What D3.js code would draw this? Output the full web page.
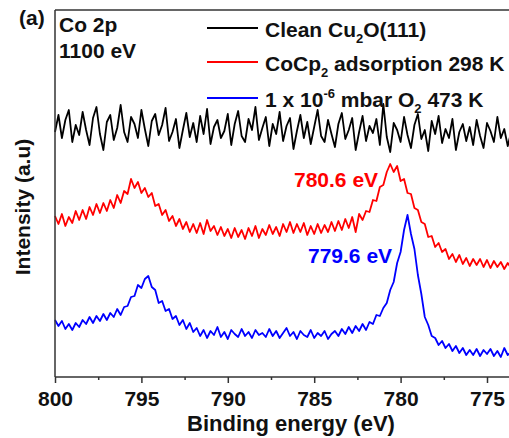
<!DOCTYPE html>
<html>
<head>
<meta charset="utf-8">
<script src="https://cdn.jsdelivr.net/npm/d3@7"></script>
<style>
  body { margin: 0; background: #fff; }
  svg { display: block; font-family: "Liberation Sans", Arial, sans-serif; font-weight: bold; }
</style>
</head>
<body>
<div class="chart"></div>
<script>
var width = 509;
var height = 438;

// binding energy grid, 800 -> 773.6 eV in 0.2 eV steps
var energy = d3.range(0, 133).map(i => +(800 - i * 0.2).toFixed(1));

// intensities (a.u.)
var cleanCu2O = [
	268, 285, 262, 280, 290, 258, 275, 265, 288, 270,
	255, 282, 293, 266, 250, 278, 285, 260, 272, 295,
	268, 258, 283, 276, 262, 290, 271, 254, 279, 286,
	265, 275, 292, 259, 268, 281, 252, 270, 287, 263,
	277, 258, 284, 266, 291, 256, 273, 280, 262, 269,
	286, 255, 276, 289, 264, 258, 281, 270, 293, 260,
	272, 283, 254, 276, 266, 288, 259, 274, 282, 251,
	269, 285, 262, 278, 256, 273, 290, 264, 258, 280,
	266, 253, 276, 287, 261, 270, 282, 250, 268, 284,
	259, 274, 267, 281, 255, 296, 263, 248, 277, 270,
	258, 283, 265, 252, 275, 286, 261, 270, 249, 279,
	266, 284, 257, 271, 262, 281, 250, 268, 276, 259,
	273, 255, 280, 264, 252, 277, 269, 258, 283, 262, 271, 254, 268
];
var cocp2Adsorption = [
	184, 176, 186, 174, 183, 177, 189, 180, 190, 181,
	193, 185, 196, 187, 197, 189, 200, 192, 205, 197,
	209, 206, 221, 212, 218, 207, 212, 203, 207, 194,
	196, 185, 190, 179, 184, 174, 181, 171, 178, 168,
	176, 167, 177, 166, 180, 169, 174, 165, 173, 164,
	171, 162, 172, 163, 170, 161, 172, 164, 174, 162,
	171, 165, 175, 166, 173, 164, 176, 168, 178, 167,
	176, 168, 177, 165, 174, 166, 176, 167, 175, 168,
	178, 169, 179, 170, 181, 172, 183, 168, 186, 180,
	189, 188, 200, 199, 213, 215, 228, 236, 228, 234,
	219, 221, 207, 206, 192, 190, 178, 176, 163, 164,
	153, 157, 148, 151, 141, 146, 138, 145, 136, 142,
	134, 141, 135, 141, 133, 140, 132, 139, 133, 138, 131, 137, 132
];
var oxygen473K = [
	80, 74, 79, 71, 76, 70, 77, 73, 80, 76,
	83, 77, 84, 79, 86, 80, 87, 83, 91, 85,
	93, 94, 103, 104, 115, 112, 121, 124, 113, 110,
	97, 99, 89, 91, 81, 84, 75, 80, 71, 77,
	68, 72, 64, 70, 62, 69, 65, 73, 63, 68,
	61, 70, 66, 63, 71, 64, 68, 62, 70, 65,
	67, 63, 71, 64, 69, 62, 67, 72, 64, 68,
	61, 69, 65, 63, 70, 62, 67, 64, 69, 61,
	66, 69, 64, 71, 66, 73, 67, 74, 69, 76,
	70, 78, 76, 85, 84, 92, 97, 110, 118, 137,
	148, 170, 185, 166, 151, 125, 106, 83, 75, 64,
	62, 55, 59, 52, 56, 49, 54, 47, 52, 45,
	50, 45, 51, 44, 50, 46, 51, 44, 49, 43, 52, 45, 48
];

var majorTicks = [800, 795, 790, 785, 780, 775];
var minorTicks = [797.5, 792.5, 787.5, 782.5, 777.5];

var seriesColors = ["#000000", "#ff0000", "#0000ff"];

var x = d3.scaleLinear().domain([800, 775]).range([55, 487]);
var y = d3.scaleLinear().domain([23, 390]).range([377, 10]);

var svg = d3.select('.chart').append('svg')
	.attr('width', width)
	.attr('height', height);

var line = d3.line()
	.defined(d => d[1] != null)
	.x(d => x(d[0]))
	.y(d => y(d[1]));

[cleanCu2O, cocp2Adsorption, oxygen473K].forEach(function(vals, k) {
	svg.append('path')
		.datum(energy.map((e, i) => [e, vals[i]]))
		.attr('d', line)
		.attr('fill', 'none')
		.attr('stroke', seriesColors[k])
		.attr('stroke-width', 1.8)
		.attr('stroke-linejoin', 'round');
});

// frame
svg.append('line').attr('x1', 55).attr('x2', width).attr('y1', 10).attr('y2', 10)
	.attr('stroke', '#333').attr('stroke-width', 1.5);
svg.append('line').attr('x1', 55).attr('x2', 55).attr('y1', 10).attr('y2', 377)
	.attr('stroke', '#333').attr('stroke-width', 1.5);
svg.append('line').attr('x1', 55).attr('x2', width).attr('y1', 377).attr('y2', 377)
	.attr('stroke', '#333').attr('stroke-width', 1.5);

// x axis
var gx = svg.append('g').attr('transform', 'translate(0,377)')
	.call(d3.axisBottom(x).tickValues(majorTicks).tickSize(6).tickPadding(8).tickFormat(d3.format('d')));
gx.select('.domain').remove();
gx.selectAll('line').attr('stroke', '#333').attr('stroke-width', 1.5);
gx.selectAll('text').attr('font-size', 21).attr('font-family', '"Liberation Sans", Arial, sans-serif')
	.attr('font-weight', 'bold').attr('fill', '#111');

var gm = svg.append('g').attr('transform', 'translate(0,377)')
	.call(d3.axisBottom(x).tickValues(minorTicks).tickSize(3).tickFormat(''));
gm.select('.domain').remove();
gm.selectAll('line').attr('stroke', '#333').attr('stroke-width', 1.5);

// axis titles
svg.append('text').attr('x', 291).attr('y', 431).attr('text-anchor', 'middle')
	.attr('font-size', 22).attr('fill', '#111').text('Binding energy (eV)');
svg.append('text').attr('transform', 'translate(30,207) rotate(-90)').attr('text-anchor', 'middle')
	.attr('font-size', 21).attr('fill', '#111').text('Intensity (a.u)');

// panel label and notes
svg.append('text').attr('x', 19).attr('y', 25).attr('font-size', 21).attr('fill', '#111').text('(a)');
svg.append('text').attr('x', 59).attr('y', 32).attr('font-size', 21).attr('fill', '#111').text('Co 2p');
svg.append('text').attr('x', 59).attr('y', 58).attr('font-size', 21).attr('fill', '#111').text('1100 eV');

// legend
var legendY = [28, 62, 98];
legendY.forEach(function(ly, k) {
	svg.append('line').attr('x1', 207).attr('x2', 258).attr('y1', ly).attr('y2', ly)
		.attr('stroke', seriesColors[k]).attr('stroke-width', 2);
});

function legendText(ly, parts) {
	var t = svg.append('text').attr('x', 265).attr('y', ly + 9).attr('font-size', 21).attr('fill', '#111');
	parts.forEach(function(p) {
		var s = t.append('tspan').text(p[0]);
		if (p[1] == 'sub') s.attr('font-size', 13).attr('dy', 6);
		else if (p[1] == 'sup') s.attr('font-size', 13).attr('dy', -9);
		else if (p[1] == 'back') s.attr('dy', p[2]);
	});
}
legendText(legendY[0], [['Clean Cu'], ['2', 'sub'], ['O(111)', 'back', -6]]);
legendText(legendY[1], [['CoCp'], ['2', 'sub'], [' adsorption 298 K', 'back', -6]]);
legendText(legendY[2], [['1 x 10'], ['-6', 'sup'], [' mbar O', 'back', 9], ['2', 'sub'], [' 473 K', 'back', -6]]);

// peak labels
svg.append('text').attr('x', 294).attr('y', 187).attr('font-size', 21).attr('fill', '#ff0000').text('780.6 eV');
svg.append('text').attr('x', 308).attr('y', 263).attr('font-size', 21).attr('fill', '#0000ff').text('779.6 eV');
</script>
</body>
</html>
